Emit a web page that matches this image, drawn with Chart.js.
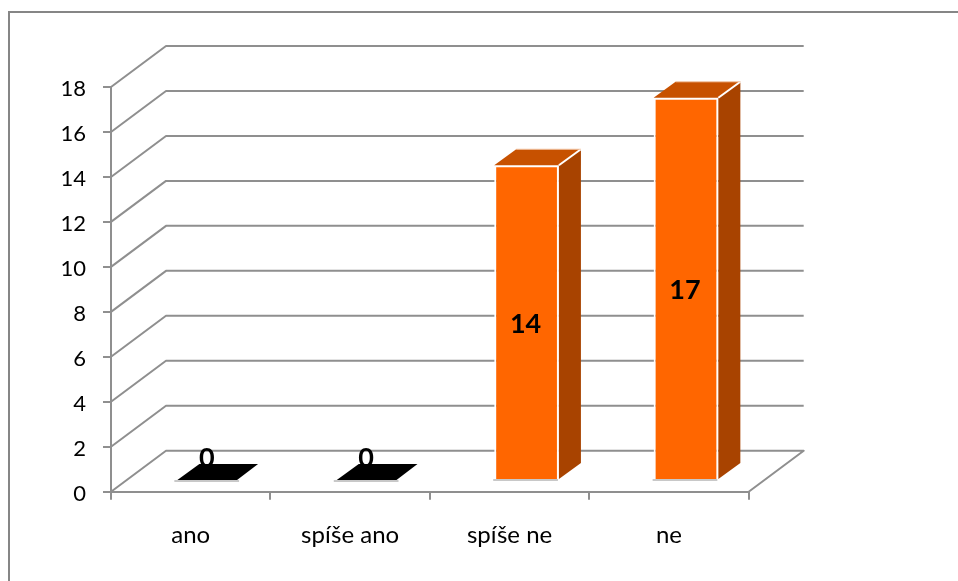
<!DOCTYPE html>
<html><head><meta charset="utf-8">
<style>html,body{margin:0;padding:0;background:#fff}#w{width:958px;height:581px;position:relative}canvas{display:block}</style>
<script src="https://cdn.jsdelivr.net/npm/chart.js@4"></script></head>
<body><div id="w"><canvas id="c" width="958" height="581"></canvas></div>
<script>
const categories = ["ano", "spíše ano", "spíše ne", "ne"];
const values = [0, 0, 14, 17];
const yTicks = [0,2,4,6,8,10,12,14,16,18];

const GRID = "#8f8f8f";
const FONT = "Lato, 'Open Sans', sans-serif";
const wall = {dx: 55, dy: 41};
const barShift = {dx: 17, dy: 11.7};
const depth = {dx: 22, dy: 16};

function poly(ctx, pts, fill, stroke, lw){
  ctx.beginPath();
  pts.forEach((p,i)=> i?ctx.lineTo(p[0],p[1]):ctx.moveTo(p[0],p[1]));
  ctx.closePath();
  if(fill){ctx.fillStyle=fill;ctx.fill();}
  if(stroke){ctx.strokeStyle=stroke;ctx.lineWidth=lw||1;ctx.stroke();}
}

const threeD = {
  id:"threeD",
  beforeDraw(chart){
    const c=chart.ctx;
    c.save();
    c.fillStyle="#fff";c.fillRect(0,0,chart.width,chart.height);
    c.strokeStyle="#868686";c.lineWidth=2;
    c.beginPath();c.moveTo(chart.width,12);c.lineTo(9,12);c.lineTo(9,chart.height);c.stroke();
    c.restore();
  },
  beforeDatasetsDraw(chart){
    const c=chart.ctx, y=chart.scales.y, a=chart.chartArea;
    c.save();
    c.strokeStyle=GRID;c.lineWidth=2;c.lineJoin="round";
    yTicks.forEach(v=>{
      const p=y.getPixelForValue(v);
      c.beginPath();
      c.moveTo(a.left,p);
      c.lineTo(a.left+wall.dx,p-wall.dy);
      c.lineTo(a.right+wall.dx,p-wall.dy);
      if(v===0) c.lineTo(a.right,p);
      c.stroke();
    });
    c.restore();
    c.save();
    c.translate(barShift.dx,-barShift.dy);
  },
  afterDatasetsDraw(chart){
    const c=chart.ctx;
    c.restore();
    const meta=chart.getDatasetMeta(0);
    c.save();
    meta.data.forEach((b,i)=>{
      const l=b.x-b.width/2+barShift.dx, r=b.x+b.width/2+barShift.dx;
      const t=b.y-barShift.dy, base=b.base-barShift.dy;
      const v=values[i];
      poly(c,[[l-1,base+2],[r-1,base+2],[r-1,base],[l-1,base]],"#c8c8c8");
      if(v===0){
        poly(c,[[l+2,base],[l+depth.dx+2,base-depth.dy],[r+depth.dx-4,base-depth.dy],[r-3,base]],"#000");
      }else{
        poly(c,[[r,t],[r+depth.dx,t-depth.dy],[r+depth.dx,base-depth.dy],[r,base]],"#a84300");
        poly(c,[[l,t],[l+depth.dx,t-depth.dy],[r+depth.dx,t-depth.dy],[r,t]],"#c75100");
        c.strokeStyle="#fff";c.lineWidth=2;
        c.beginPath();c.moveTo(r,t);c.lineTo(r+depth.dx,t-depth.dy);c.stroke();
        c.strokeStyle="#f3c6a6";c.lineWidth=1;
        c.beginPath();c.moveTo(l+depth.dx,t-depth.dy);c.lineTo(r+depth.dx,t-depth.dy);c.stroke();
      }
    });
    c.fillStyle="#000";c.font="bold 27px "+FONT;c.textAlign="center";c.textBaseline="middle";
    meta.data.forEach((b,i)=>{
      const x=b.x+barShift.dx-1, t=b.y-barShift.dy, base=b.base-barShift.dy;
      const v=values[i];
      c.fillText(String(v), x, v===0? base-22 : (t+base)/2+2);
    });
    c.restore();
  }
};

new Chart(document.getElementById("c"),{
  type:"bar",
  data:{labels:categories,datasets:[{data:values,backgroundColor:"#ff6600",borderColor:"#ffffff",borderWidth:2,
    barPercentage:0.406,categoryPercentage:1}]},
  plugins:[threeD],
  options:{
    responsive:false,animation:false,devicePixelRatio:1,
    layout:{padding:{left:0,right:209.3,top:87,bottom:29.3},autoPadding:false},
    plugins:{legend:{display:false},tooltip:{enabled:false},title:{display:false}},
    scales:{
      x:{type:"category",offset:true,
        afterFit(s){s.height=60;},
        grid:{display:true,drawOnChartArea:false,drawTicks:true,tickLength:8,color:GRID,lineWidth:2,offset:true},
        border:{display:true,color:GRID,width:2},
        ticks:{color:"#000",font:{family:FONT,size:24},padding:21,maxRotation:0,autoSkip:false}},
      y:{min:0,max:18,
        afterFit(s){s.width=111;},
        afterBuildTicks(s){s.ticks=yTicks.map(v=>({value:v}));},
        grid:{display:true,drawOnChartArea:false,drawTicks:true,tickLength:8,color:GRID,lineWidth:2},
        border:{display:true,color:GRID,width:2},
        ticks:{color:"#000",font:{family:FONT,size:22},padding:17,labelOffset:2}}
    }
  }
});
</script>
</body></html>
